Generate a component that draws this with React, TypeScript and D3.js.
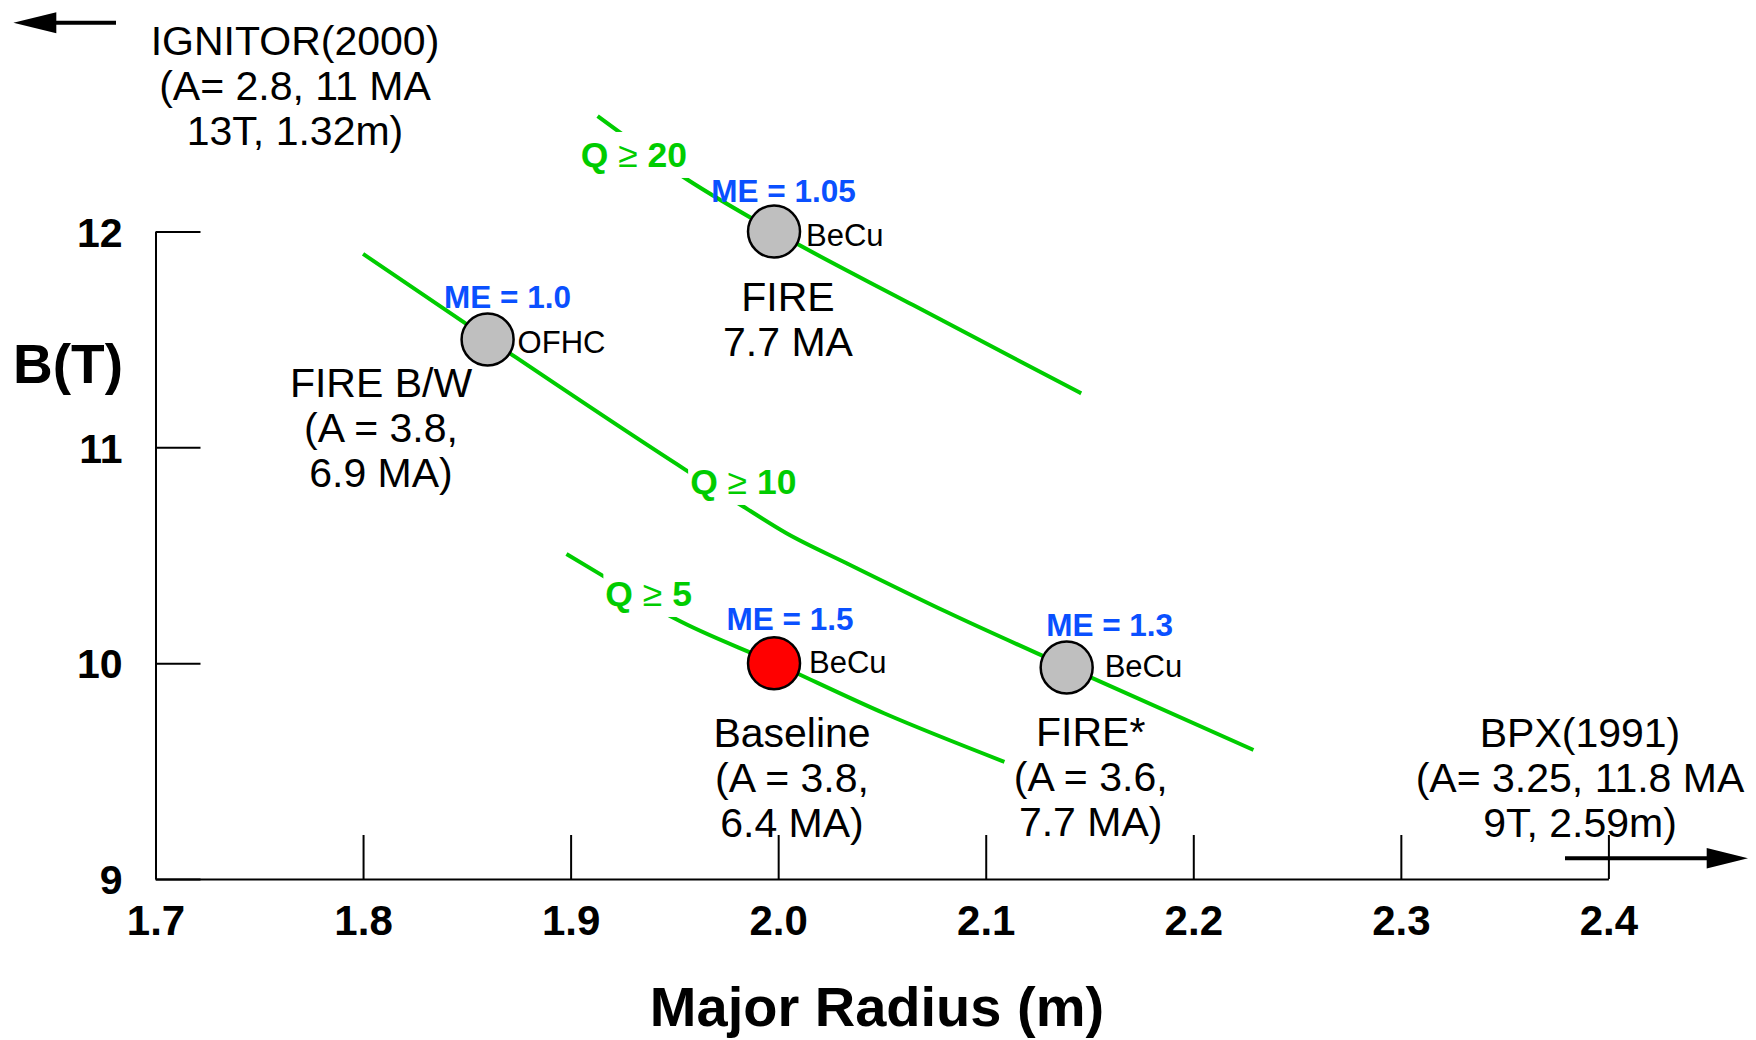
import React, { useEffect, useRef } from "react";
import * as d3 from "d3";

const W = 1756;
const H = 1040;

const xTicks = [1.7, 1.8, 1.9, 2.0, 2.1, 2.2, 2.3, 2.4];
const yTicks = [9, 10, 11, 12];

// Q contours: [major radius (m), B (T)]
const q20Line = [
  [1.913, 12.535],
  [1.956, 12.242],
  [1.998, 12.002],
  [2.065, 11.659],
  [2.146, 11.25],
];
const q10Line = [
  [1.8, 11.896],
  [1.86, 11.505],
  [1.955, 10.898],
  [1.982, 10.733],
  [2.004, 10.602],
  [2.033, 10.463],
  [2.081, 10.238],
  [2.139, 9.984],
  [2.229, 9.598],
];
const q5Line = [
  [1.898, 10.506],
  [1.915, 10.408],
  [1.95, 10.208],
  [1.998, 10.002],
  [2.051, 9.768],
  [2.109, 9.543],
];
const qValues = ["20", "10", "5"];

// design points
const devices = ["FIRE", "FIRE B/W", "Baseline", "FIRE*"];
const deviceR = [1.998, 1.86, 1.998, 2.139];
const deviceB = [12.0, 11.5, 10.0, 9.98];
const deviceME = ["1.05", "1.0", "1.5", "1.3"];
const deviceMaterial = ["BeCu", "OFHC", "BeCu", "BeCu"];
const deviceNotes = [
  ["FIRE", "7.7 MA"],
  ["FIRE B/W", "(A = 3.8,", "6.9 MA)"],
  ["Baseline", "(A = 3.8,", "6.4 MA)"],
  ["FIRE*", "(A = 3.6,", "7.7 MA)"],
];
const highlighted = "Baseline";

const ignitorNote = ["IGNITOR(2000)", "(A= 2.8, 11 MA", "13T, 1.32m)"];
const bpxNote = ["BPX(1991)", "(A= 3.25, 11.8 MA", "9T, 2.59m)"];

// label placement (pixel offsets from each point)
const qLabelAt = [
  [1.9305, 12.299],
  [1.9832, 10.784],
  [1.9376, 10.265],
];
const labelOffsets = [
  { me: [9.5, -30], mat: [32, 14.5], note: [14, 79] },
  { me: [20, -31], mat: [30, 13.6], note: [-106.6, 57.3] },
  { me: [16, -33], mat: [35, 10], note: [18, 84] },
  { me: [43, -31.5], mat: [38, 9.5], note: [24, 79] },
];

const GREEN = "#00cc00";
const BLUE = "#0a50ff";
const FONT = "'Liberation Sans', Arial, Helvetica, sans-serif";

export default function App() {
  const ref = useRef<SVGSVGElement>(null);

  useEffect(() => {
    drawChart();
  }, []);

  function drawChart() {
    const svg = d3.select(ref.current);
    svg.selectAll("*").remove();
    svg.attr("font-family", FONT);

    svg.append("rect").attr("width", W).attr("height", H).attr("fill", "#fff");

    const x = d3.scaleLinear().domain([1.7, 2.4]).range([155.5, 1608.4]);
    const y = d3.scaleLinear().domain([9, 12]).range([879, 231.5]);

    // axes
    const xAxis = svg
      .append("g")
      .attr("transform", `translate(0,${y(9)})`)
      .call(
        d3
          .axisBottom(x)
          .tickValues(xTicks)
          .tickFormat(d3.format(".1f"))
          .tickSizeInner(-44)
          .tickSizeOuter(0)
          .tickPadding(26)
      )
      .attr("font-family", FONT)
      .attr("font-size", 42)
      .attr("font-weight", "bold");
    xAxis.selectAll("line, path").attr("stroke", "#000").attr("stroke-width", 2);
    xAxis.selectAll("text").attr("fill", "#000");

    const yAxis = svg
      .append("g")
      .attr("transform", `translate(${x(1.7)},0)`)
      .call(
        d3
          .axisLeft(y)
          .tickValues(yTicks)
          .tickFormat(d3.format("d"))
          .tickSizeInner(-45)
          .tickSizeOuter(0)
          .tickPadding(33)
      )
      .attr("font-family", FONT)
      .attr("font-size", 41)
      .attr("font-weight", "bold");
    yAxis.selectAll("line, path").attr("stroke", "#000").attr("stroke-width", 2);
    yAxis.selectAll("text").attr("fill", "#000").attr("dy", "0.36em");

    svg
      .append("text")
      .attr("x", 68)
      .attr("y", 383)
      .attr("text-anchor", "middle")
      .attr("font-size", 55)
      .attr("font-weight", "bold")
      .text("B(T)");
    svg
      .append("text")
      .attr("x", 877)
      .attr("y", 1026)
      .attr("text-anchor", "middle")
      .attr("font-size", 56)
      .attr("font-weight", "bold")
      .text("Major Radius (m)");

    // Q contours
    const line = d3
      .line<number[]>()
      .x((d) => x(d[0]))
      .y((d) => y(d[1]))
      .curve(d3.curveMonotoneX);

    [q20Line, q10Line, q5Line].forEach((pts) => {
      svg
        .append("path")
        .datum(pts)
        .attr("fill", "none")
        .attr("stroke", GREEN)
        .attr("stroke-width", 4)
        .attr("d", line);
    });

    qValues.forEach((v, i) => {
      const g = svg.append("g");
      const t = g
        .append("text")
        .attr("x", x(qLabelAt[i][0]))
        .attr("y", y(qLabelAt[i][1]))
        .attr("text-anchor", "middle")
        .attr("font-size", 35.5)
        .attr("font-weight", "bold")
        .attr("fill", GREEN);
      t.append("tspan").text("Q ");
      t.append("tspan").attr("font-weight", "normal").text("≥");
      t.append("tspan").text(" " + v);
      const bb = (t.node() as SVGTextElement).getBBox();
      g.insert("rect", "text")
        .attr("x", bb.x - 2)
        .attr("y", bb.y - 3)
        .attr("width", bb.width + 4)
        .attr("height", bb.height + 6)
        .attr("fill", "#fff");
    });

    // design points
    devices.forEach((name, i) => {
      const cx = x(deviceR[i]);
      const cy = y(deviceB[i]);
      const off = labelOffsets[i];

      svg
        .append("circle")
        .attr("cx", cx)
        .attr("cy", cy)
        .attr("r", 26)
        .attr("fill", name === highlighted ? "#ff0000" : "#bfbfbf")
        .attr("stroke", "#000")
        .attr("stroke-width", 2.5);

      svg
        .append("text")
        .attr("x", cx + off.me[0])
        .attr("y", cy + off.me[1])
        .attr("text-anchor", "middle")
        .attr("font-size", 31.5)
        .attr("font-weight", "bold")
        .attr("fill", BLUE)
        .text("ME = " + deviceME[i]);

      svg
        .append("text")
        .attr("x", cx + off.mat[0])
        .attr("y", cy + off.mat[1])
        .attr("font-size", 31)
        .attr("fill", "#000")
        .text(deviceMaterial[i]);

      const note = svg
        .append("text")
        .attr("text-anchor", "middle")
        .attr("font-size", 41)
        .attr("fill", "#000");
      deviceNotes[i].forEach((s, k) => {
        note
          .append("tspan")
          .attr("x", cx + off.note[0])
          .attr("y", cy + off.note[1] + k * 45)
          .text(s);
      });
    });

    // off-chart machines
    const notes: [string[], number, number][] = [
      [ignitorNote, 295, 55],
      [bpxNote, 1580, 746.7],
    ];
    notes.forEach(([lines, nx, ny]) => {
      const t = svg
        .append("text")
        .attr("text-anchor", "middle")
        .attr("font-size", 41)
        .attr("fill", "#000");
      lines.forEach((s, k) => {
        t.append("tspan").attr("x", nx).attr("y", ny + k * 45).text(s);
      });
    });

    // arrows
    svg
      .append("line")
      .attr("x1", 50)
      .attr("x2", 116)
      .attr("y1", 22.7)
      .attr("y2", 22.7)
      .attr("stroke", "#000")
      .attr("stroke-width", 4);
    svg
      .append("path")
      .attr("d", "M13.4,22.7L56.3,12.2L56.3,33.2Z")
      .attr("fill", "#000");
    svg
      .append("line")
      .attr("x1", 1565)
      .attr("x2", 1712)
      .attr("y1", 858.3)
      .attr("y2", 858.3)
      .attr("stroke", "#000")
      .attr("stroke-width", 4);
    svg
      .append("path")
      .attr("d", "M1748,858.3L1706.7,848L1706.7,868.6Z")
      .attr("fill", "#000");
  }

  return (
    <svg
      ref={ref}
      width={W}
      height={H}
      style={{ position: "absolute", left: 0, top: 0, display: "block" }}
    />
  );
}
